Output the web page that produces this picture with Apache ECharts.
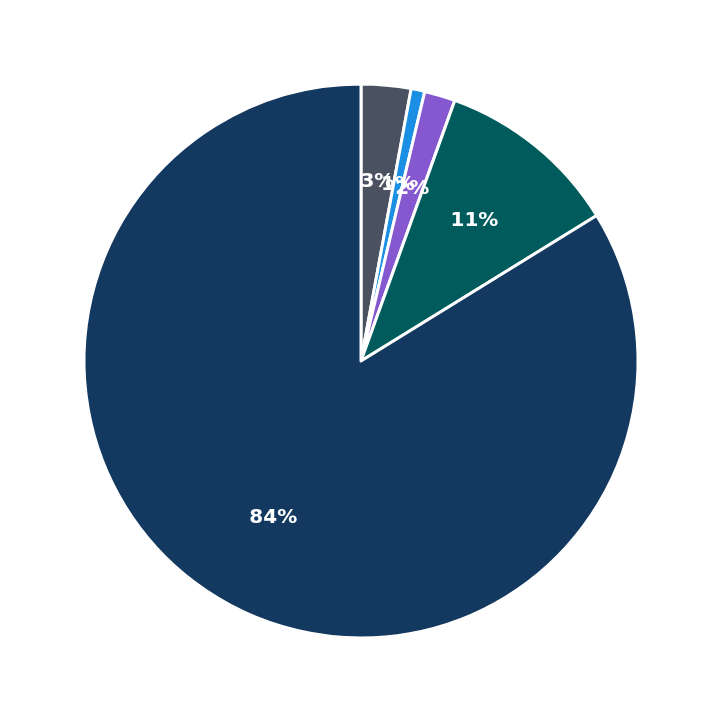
<!DOCTYPE html>
<html><head><meta charset="utf-8">
<script src="https://cdn.jsdelivr.net/npm/echarts@6/dist/echarts.min.js"></script>
<style>html,body{margin:0;background:#fff}#c{width:723px;height:723px}</style>
</head><body><div id="c"></div>
<script>
const categories = ['A','B','C','D','E'];
const values = [2.9, 0.8, 1.8, 10.7, 83.8];
const colors = ['#4a5262','#1a8fe3','#8658d0','#005c5c','#133961'];
const chart = echarts.init(document.getElementById('c'));
chart.setOption({
  animation:false,
  series:[{
    type:'pie', center:[361,361], radius:[0,277], startAngle:90, clockwise:true,
    data: categories.map((n,i)=>({name:n,value:values[i],itemStyle:{color:colors[i]}})),
    itemStyle:{borderColor:'#fff',borderWidth:3},
    label:{show:true,position:'inside',color:'#fff',fontSize:20,fontWeight:'bold',fontFamily:'DejaVu Sans',
      formatter:p=>Math.round(p.percent)+'%'},
    labelLayout:function(p){
      const r=p.rect; const cx=361, cy=361;
      const lx=p.labelRect.x+p.labelRect.width/2, ly=p.labelRect.y+p.labelRect.height/2;
      const dx=lx-cx, dy=ly-cy, d=Math.sqrt(dx*dx+dy*dy)||1;
      const k=180/d;
      return {x:cx+dx*k, y:cy+dy*k, align:'center', verticalAlign:'middle'};
    }
  }]
});
</script></body></html>
